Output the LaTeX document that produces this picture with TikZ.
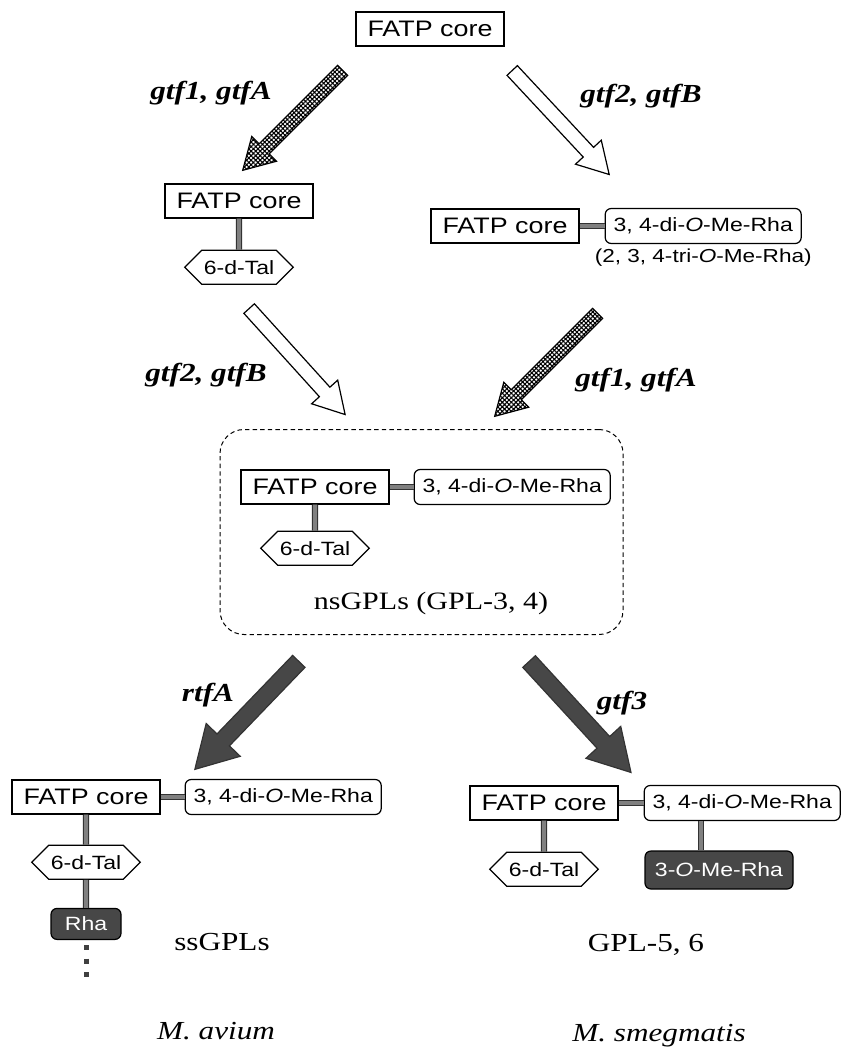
\documentclass[tikz,border=0pt]{standalone}
\usepackage{fontspec}
\setmainfont{Liberation Serif}[FakeStretch=1.2]
\setsansfont{Liberation Sans}[FakeStretch=1.2]
\usetikzlibrary{positioning,calc,shapes.arrows,shapes.symbols,patterns.meta}
\tikzset{
    corebox/.style={
        draw, line width=0.6pt, fill=white,
        font=\sffamily\fontsize{11.2}{13}\selectfont,
        inner sep=0pt, minimum width=74pt, minimum height=17pt
    },
    sugar/.style={
        draw, line width=0.6pt, fill=white, rounded corners=3pt,
        font=\sffamily\fontsize{9.6}{11}\selectfont,
        inner sep=0pt, minimum width=98pt, minimum height=17.5pt
    },
    hexsugar/.style={
        signal, signal to=west and east, signal pointer angle=90,
        draw, line width=0.6pt, fill=white,
        font=\sffamily\fontsize{9.6}{11}\selectfont,
        inner xsep=1pt, inner ysep=0pt, minimum height=17pt, minimum width=54pt
    },
    darksugar/.style={
        draw=black, line width=0.6pt, fill=black!72, text=white, rounded corners=3pt,
        font=\sffamily\fontsize{9.6}{11}\selectfont,
        inner sep=0pt, minimum height=17pt
    },
    note/.style={font=\sffamily\fontsize{9.4}{11}\selectfont, inner sep=1pt},
    link/.style={draw=black!80, line width=0.6pt, double=black!50, double distance=1.9pt},
    chain/.style={black!75, line width=2.5pt, dash pattern=on 2.5pt off 4.25pt, dash phase=4.25pt},
    genelabel/.style={font=\bfseries\itshape\fontsize{13}{15}\selectfont},
    caption/.style={font=\fontsize{13}{15}\selectfont},
    captionit/.style={font=\fontsize{13}{15}\selectfont\itshape},
    pool/.style={
        draw, line width=0.5pt, dash pattern=on 2.2pt off 1.6pt, rounded corners=12pt,
        minimum width=201.5pt, minimum height=102.5pt
    },
    hatcharrow/.style={
        single arrow, draw, line width=0.6pt,
        pattern={Hatch[angle=45,distance=1.6pt,line width=0.55pt]},
        inner xsep=0pt, inner ysep=3.25pt, minimum width=0pt,
        single arrow head extend=5.25pt, single arrow tip angle=60
    },
    openarrow/.style={
        single arrow, draw, line width=0.6pt, fill=white,
        inner xsep=0pt, inner ysep=3.25pt, minimum width=0pt,
        single arrow head extend=5.25pt, single arrow tip angle=60
    },
    darkarrow/.style={
        single arrow, draw=black!80, line width=0.6pt, fill=black!72,
        inner xsep=0pt, inner ysep=4pt, minimum width=0pt,
        single arrow head extend=7.5pt, single arrow tip angle=60
    },
}

\begin{document}
\begin{tikzpicture}[x=0.5pt, y=-0.5pt]
    \useasboundingbox (0,0) rectangle (843,1054);

    % start
    \node[corebox] (core0) at (430,29) {FATP core};
    \node[genelabel] (lblA1) at (211,93) {gtf1, gtfA};
    \node[genelabel] (lblB1) at (641,96) {gtf2, gtfB};

    % first glycosylation
    \node[corebox] (coreL) at (239,201) {FATP core};
    \node[hexsugar, below=15.5pt of coreL] (talL) {6-d-Tal};
    \node[corebox] (coreR) at (505,226) {FATP core};
    \node[sugar, right=12.5pt of coreR] (rhaR) {3, 4-di-\textit{O}-Me-Rha};
    \node[note, below=1pt of rhaR] (rhaRalt) {(2, 3, 4-tri-\textit{O}-Me-Rha)};
    \draw[link] (coreL) -- (talL);
    \draw[link] (coreR) -- (rhaR);

    \node[genelabel] (lblB2) at (206,375) {gtf2, gtfB};
    \node[genelabel] (lblA2) at (636,380) {gtf1, gtfA};

    % nsGPLs
    \node[pool] (pool) at (421.5,532) {};
    \node[corebox] (coreN) at (315,487) {FATP core};
    \node[sugar, right=12pt of coreN] (rhaN) {3, 4-di-\textit{O}-Me-Rha};
    \node[hexsugar, below=13pt of coreN] (talN) {6-d-Tal};
    \node[caption, font=\fontsize{12.5}{15}\selectfont] (nsgpl) at (431,603) {nsGPLs (GPL-3, 4)};
    \draw[link] (coreN) -- (rhaN);
    \draw[link] (coreN) -- (talN);

    \node[genelabel] (lblR) at (208,695) {rtfA};
    \node[genelabel] (lblG) at (622,703) {gtf3};

    % M. avium
    \node[corebox] (coreA) at (86,797) {FATP core};
    \node[sugar, right=12pt of coreA] (rhaA) {3, 4-di-\textit{O}-Me-Rha};
    \node[hexsugar, below=15pt of coreA] (talA) {6-d-Tal};
    \node[darksugar, below=14pt of talA, minimum width=35pt, minimum height=15.5pt] (rhaA2) {Rha};
    \coordinate[below=18.5pt of rhaA2] (chainA);
    \draw[link] (coreA) -- (rhaA);
    \draw[link] (coreA) -- (talA);
    \draw[link] (talA) -- (rhaA2);
    \draw[chain] (rhaA2.south) -- (chainA);
    \node[caption] (ssgpl) at (222,942) {ssGPLs};
    \node[captionit] (avium) at (216,1031) {M. avium};

    % M. smegmatis
    \node[corebox] (coreS) at (544,803) {FATP core};
    \node[sugar, right=12.5pt of coreS] (rhaS) {3, 4-di-\textit{O}-Me-Rha};
    \node[hexsugar, below=15.5pt of coreS] (talS) {6-d-Tal};
    \node[darksugar, minimum width=74pt, minimum height=19pt] (omeS) at (719,870) {3-\textit{O}-Me-Rha};
    \draw[link] (coreS) -- (rhaS);
    \draw[link] (coreS) -- (talS);
    \draw[link] ([xshift=-9pt]omeS.north) -- ([xshift=-9pt]omeS.north |- rhaS.south);
    \node[caption] (gpl56) at (646,945) {GPL-5, 6};
    \node[captionit] (smeg) at (659,1036) {M. smegmatis};

    % block arrows
    \coordinate (a1s) at (347,66);  \coordinate (a1e) at (247,166);
    \coordinate (a2s) at (508,66);  \coordinate (a2e) at (605,170);
    \coordinate (a3s) at (245,304); \coordinate (a3e) at (341,410);
    \coordinate (a4s) at (602,309); \coordinate (a4e) at (499,412);
    \coordinate (a5s) at (304,656); \coordinate (a5e) at (200,764);
    \coordinate (a6s) at (524,656); \coordinate (a6e) at (626,767);
    \path let \p1=($(a1e)-(a1s)$), \n1={atan2(\y1,\x1)}, \n2={veclen(\x1,\y1)} in
        node[hatcharrow, rotate=\n1, minimum height=\n2] (arrA1) at ($(a1s)!0.5!(a1e)$) {};
    \path let \p1=($(a2e)-(a2s)$), \n1={atan2(\y1,\x1)}, \n2={veclen(\x1,\y1)} in
        node[openarrow, rotate=\n1, minimum height=\n2] (arrB1) at ($(a2s)!0.5!(a2e)$) {};
    \path let \p1=($(a3e)-(a3s)$), \n1={atan2(\y1,\x1)}, \n2={veclen(\x1,\y1)} in
        node[openarrow, rotate=\n1, minimum height=\n2] (arrB2) at ($(a3s)!0.5!(a3e)$) {};
    \path let \p1=($(a4e)-(a4s)$), \n1={atan2(\y1,\x1)}, \n2={veclen(\x1,\y1)} in
        node[hatcharrow, rotate=\n1, minimum height=\n2] (arrA2) at ($(a4s)!0.5!(a4e)$) {};
    \path let \p1=($(a5e)-(a5s)$), \n1={atan2(\y1,\x1)}, \n2={veclen(\x1,\y1)} in
        node[darkarrow, rotate=\n1, minimum height=\n2] (arrR) at ($(a5s)!0.5!(a5e)$) {};
    \path let \p1=($(a6e)-(a6s)$), \n1={atan2(\y1,\x1)}, \n2={veclen(\x1,\y1)} in
        node[darkarrow, rotate=\n1, minimum height=\n2] (arrG) at ($(a6s)!0.5!(a6e)$) {};
\end{tikzpicture}
\end{document}
